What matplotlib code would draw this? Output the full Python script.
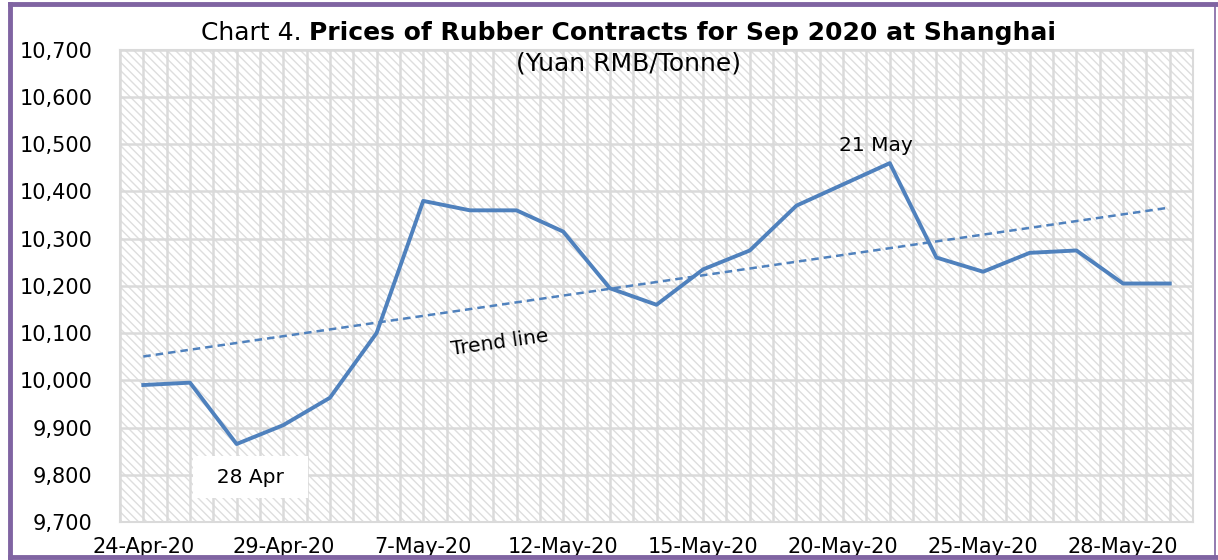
import numpy as np
import matplotlib
matplotlib.use('Agg')
import matplotlib.pyplot as plt
from matplotlib.patches import Rectangle
from matplotlib.lines import Line2D

# Trading days shown on the chart.
dates = ['24-Apr-20', '27-Apr-20', '28-Apr-20', '29-Apr-20', '30-Apr-20',
         '6-May-20', '7-May-20', '8-May-20', '11-May-20', '12-May-20',
         '13-May-20', '14-May-20', '15-May-20', '18-May-20', '19-May-20',
         '20-May-20', '21-May-20', '22-May-20', '25-May-20', '26-May-20',
         '27-May-20', '28-May-20', '29-May-20']
# Settlement prices, Yuan RMB per tonne.
prices = [9990, 9995, 9865, 9905, 9963, 10100, 10380, 10360, 10360, 10315,
          10195, 10160, 10235, 10275, 10370, 10415, 10460, 10260, 10230, 10270,
          10275, 10205, 10205]
y_ticks = [9700, 9800, 9900, 10000, 10100, 10200, 10300, 10400, 10500, 10600, 10700]

blue = '#4F81BD'
grid_col = '#dadada'
purple = '#8064A2'

plt.rcParams['font.family'] = ['DejaVu Sans']
plt.rcParams['hatch.linewidth'] = 1.0

fig = plt.figure(figsize=(12.18, 5.6), dpi=100)
ax = fig.add_axes([0.0985, 0.068, 0.881, 0.843])

x = np.arange(len(prices))

# Hatched plot area like the Excel pattern fill.
ax.add_patch(Rectangle((0, 0), 1, 1, transform=ax.transAxes, facecolor='white',
                       edgecolor='#dedede', lw=0, hatch='\\' * 4, zorder=0))

ax.set_xlim(-0.5, len(prices) - 0.5)
ax.set_ylim(9700, 10700)
ax.set_yticks(y_ticks)
ax.set_yticklabels([f'{v:,}' for v in y_ticks])
ax.set_xticks(x[::3])
ax.set_xticklabels(dates[::3])
ax.set_xticks(np.arange(-0.5, len(prices), 0.5), minor=True)

ax.grid(axis='y', which='major', color=grid_col, lw=1.8)
ax.grid(axis='x', which='both', color=grid_col, lw=1.8)
ax.set_axisbelow(True)
ax.tick_params(which='both', length=0, colors='black')
ax.tick_params(axis='x', pad=11, labelsize=15)
ax.tick_params(axis='y', pad=20, labelsize=15)
for s in ax.spines.values():
    s.set_color(grid_col)
    s.set_linewidth(1.5)

ax.plot(x, prices, color=blue, lw=2.8, zorder=3)

# Linear trend line.
coef = np.polyfit(x, prices, 1)
ax.plot(x, np.polyval(coef, x), color=blue, lw=1.8, ls=(0, (3, 2)), zorder=3)

ax.text(2.3, 9795, '  28 Apr  ', ha='center', va='center', fontsize=14.5,
        bbox=dict(facecolor='white', edgecolor='none', boxstyle='square,pad=0.55'),
        zorder=4)
ax.text(15.7, 10497, '21 May', ha='center', va='center', fontsize=14.5, zorder=4)
ax.text(7.65, 10080, 'Trend line', ha='center', va='center', fontsize=14.5,
        rotation=8, zorder=4)

# Title: "Chart 4." regular, the rest bold, centred as one line.
t1 = fig.text(0, 0.941, 'Chart 4. ', ha='left', va='center', fontsize=18)
t2 = fig.text(0, 0.941, 'Prices of Rubber Contracts for Sep 2020 at Shanghai',
              ha='left', va='center', fontsize=18, fontweight='bold')
fig.text(0.516, 0.886, '(Yuan RMB/Tonne)', ha='center', va='center', fontsize=18)
fig.canvas.draw()
r = fig.canvas.get_renderer()
w1 = t1.get_window_extent(r).width / fig.bbox.width
w2 = t2.get_window_extent(r).width / fig.bbox.width
x0 = 0.516 - (w1 + w2) / 2
t1.set_x(x0)
t2.set_x(x0 + w1)

# Purple frame around the whole figure.
for xs, ys, lw in [([0.0078, 0.0078], [0.005, 0.993], 3.5),
                   ([0.0078, 0.998], [0.993, 0.993], 3.5),
                   ([0.0078, 0.998], [0.005, 0.005], 3.5),
                   ([0.9975, 0.9975], [0.005, 0.993], 1.2)]:
    fig.add_artist(Line2D(xs, ys, transform=fig.transFigure, color=purple, lw=lw))

fig.savefig('out.png', dpi=100)
